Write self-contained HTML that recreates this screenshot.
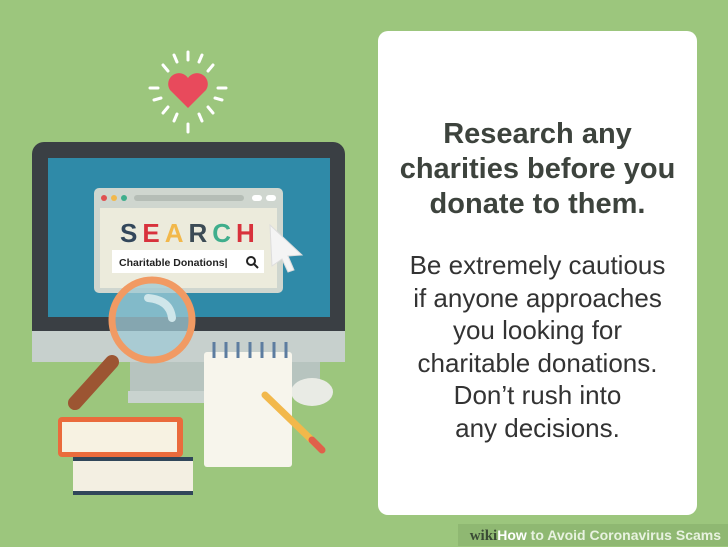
<!DOCTYPE html>
<html><head><meta charset="utf-8"><style>
html,body{margin:0;padding:0}
body{width:728px;height:546px;overflow:hidden;background:#9cc67d;position:relative;font-family:"Liberation Sans",sans-serif}
.card{position:absolute;left:378px;top:31px;width:319px;height:484px;background:#fff;border-radius:10px}
.title{position:absolute;left:0;width:319px;top:86px;text-align:center;font-weight:bold;font-size:29px;line-height:35px;color:#3d433d}
.body{position:absolute;left:0;width:319px;top:218px;text-align:center;font-size:26px;line-height:32.6px;color:#333}
.wm{position:absolute;right:0;top:524px;height:22px;width:270px;background:#8fb872;font-size:14px;font-weight:bold;color:#e8f2e0;text-align:right;padding-right:7px;box-sizing:border-box;line-height:22px}
.wm b{color:#3a4a35;font-family:"Liberation Serif",serif;font-size:15px}
</style></head><body>
<svg width="728" height="546" style="position:absolute;left:0;top:0">
<path d="M0,0 H728 V546 H0Z" fill="#9cc67d"/>
<g stroke="#fff" stroke-width="3" stroke-linecap="round">
<line x1="188" y1="52" x2="188" y2="60"/><line x1="188" y1="124" x2="188" y2="132"/>
<line x1="150" y1="88" x2="158" y2="88"/><line x1="218" y1="88" x2="226" y2="88"/>
<line x1="163" y1="65" x2="168" y2="71"/><line x1="213" y1="65" x2="208" y2="71"/>
<line x1="163" y1="113" x2="168" y2="107"/><line x1="213" y1="113" x2="208" y2="107"/>
<line x1="174" y1="55" x2="177" y2="62"/><line x1="202" y1="55" x2="199" y2="62"/>
<line x1="174" y1="121" x2="177" y2="114"/><line x1="202" y1="121" x2="199" y2="114"/>
<line x1="154" y1="100" x2="161" y2="98"/><line x1="222" y1="100" x2="215" y2="98"/>
</g>
<path d="M188,108 L170,90 A10,10 0 0 1 188,78 A10,10 0 0 1 206,90 Z" fill="#e84a5c"/>
<g>
<rect x="130" y="358" width="190" height="36" fill="#b7c4bf"/>
<rect x="128" y="391" width="112" height="12" fill="#c9d3cf"/>
<rect x="32" y="142" width="313" height="220" rx="12" fill="#3a3f44"/>
<rect x="32" y="331" width="313" height="31" fill="#c7d0cd"/>
<rect x="48" y="158" width="282" height="159" fill="#2f8aa8"/>
<rect x="94" y="188" width="189" height="105" rx="5" fill="#cfd6cf"/>
<rect x="100" y="208" width="177" height="80" fill="#ecebdc"/>
<circle cx="104" cy="198" r="3" fill="#e05050"/><circle cx="114" cy="198" r="3" fill="#f2b84b"/><circle cx="124" cy="198" r="3" fill="#3fae8c"/>
<rect x="134" y="195" width="110" height="6" rx="3" fill="#b5bdb6"/>
<rect x="252" y="195" width="10" height="6" rx="3" fill="#fff"/><rect x="266" y="195" width="10" height="6" rx="3" fill="#fff"/>
<text x="120" y="242" font-size="26" font-weight="bold" letter-spacing="5" fill="#33475b"><tspan fill="#33475b">S</tspan><tspan fill="#d8323c">E</tspan><tspan fill="#f2b84b">A</tspan><tspan fill="#3c4b55">R</tspan><tspan fill="#3fae8c">C</tspan><tspan fill="#d8323c">H</tspan></text>
<rect x="112" y="250" width="152" height="23" fill="#fff"/>
<text x="119" y="266" font-size="10.5" font-weight="bold" fill="#222">Charitable Donations|</text>
<circle cx="251" cy="261" r="4" fill="none" stroke="#222" stroke-width="2"/><line x1="254" y1="264" x2="258" y2="268" stroke="#222" stroke-width="2"/>
<path d="M270,225 L302,255 L288,256 L294,270 L288,272 L282,259 L272,266Z" fill="#f4f4f4" stroke="#ddd"/>
</g>
<g>
<line x1="75" y1="403" x2="112" y2="362" stroke="#9c5532" stroke-width="14" stroke-linecap="round"/>
<circle cx="152" cy="320" r="38" fill="#9fc9d4" fill-opacity="0.75"/>
<circle cx="152" cy="320" r="40" fill="none" stroke="#f19a63" stroke-width="7"/>
<path d="M148,298 Q170,300 172,318" stroke="#cfe6ea" stroke-width="8" fill="none" stroke-linecap="round"/>
</g>
<g><ellipse cx="312" cy="392" rx="21" ry="14" fill="#e9ebe5"/></g>
<g>
<rect x="204" y="352" width="88" height="115" rx="3" fill="#f7f5ec"/>
<g stroke="#5d7da0" stroke-width="3"><line x1="214" y1="342" x2="214" y2="358"/><line x1="226" y1="342" x2="226" y2="358"/><line x1="238" y1="342" x2="238" y2="358"/><line x1="250" y1="342" x2="250" y2="358"/><line x1="262" y1="342" x2="262" y2="358"/><line x1="274" y1="342" x2="274" y2="358"/><line x1="286" y1="342" x2="286" y2="358"/></g>
<line x1="265" y1="395" x2="320" y2="448" stroke="#f2b84b" stroke-width="7" stroke-linecap="round"/>
<line x1="312" y1="440" x2="322" y2="450" stroke="#e0604a" stroke-width="7" stroke-linecap="round"/>
</g>
<g>
<rect x="73" y="457" width="120" height="38" fill="#f3efe2"/>
<rect x="73" y="457" width="120" height="4" fill="#30465a"/><rect x="73" y="491" width="120" height="4" fill="#30465a"/>
<rect x="58" y="417" width="125" height="40" rx="4" fill="#ea6b3c"/>
<rect x="62" y="422" width="115" height="30" fill="#f7f2e2"/>
</g>
</svg>
<div class="card">
<div class="title">Research any<br>charities before you<br>donate to them.</div>
<div class="body">Be extremely cautious<br>if anyone approaches<br>you looking for<br>charitable donations.<br>Don’t rush into<br>any decisions.</div>
</div>
<div class="wm"><b>wiki</b><span style="color:#fff">How</span> to Avoid Coronavirus Scams</div>
</body></html>
